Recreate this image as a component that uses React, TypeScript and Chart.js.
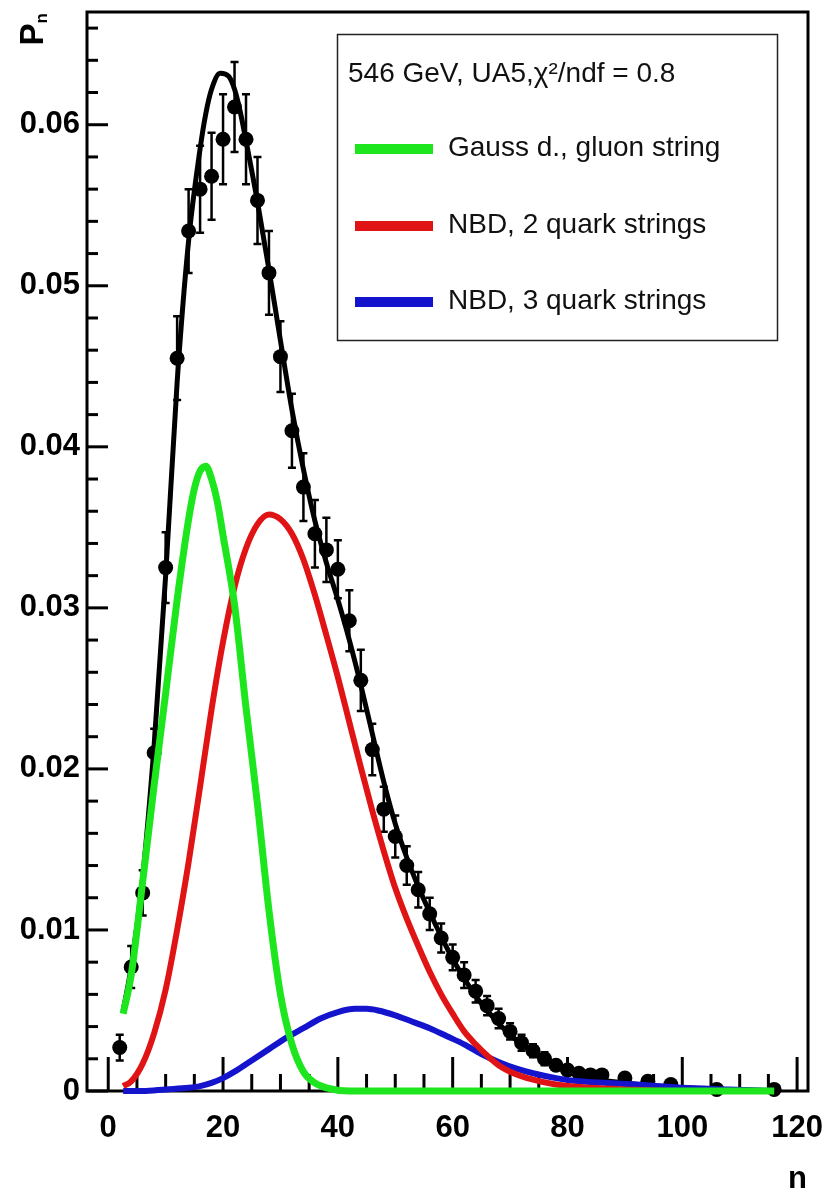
import React, { useEffect, useRef } from 'react';
import { Chart, registerables } from 'chart.js';

Chart.register(...registerables);

// ---- data points (UA5, 546 GeV) ----
const dataN = [2, 4, 6, 8, 10, 12, 14, 16, 18, 20, 22, 24, 26, 28, 30, 32, 34, 36, 38, 40, 42, 44, 46, 48, 50, 52, 54, 56, 58, 60, 62, 64, 66, 68, 70, 72, 74, 76, 78, 80, 82, 84, 86, 90, 94, 98, 106, 116];
const dataP = [0.0027, 0.0077, 0.0123, 0.0210, 0.0325, 0.0455, 0.0534, 0.0560, 0.0568, 0.0591, 0.0611, 0.0591, 0.0553, 0.0508, 0.0456, 0.0410, 0.0375, 0.0346, 0.0336, 0.0324, 0.0292, 0.0255, 0.0212, 0.0175, 0.0158, 0.0140, 0.0125, 0.0110, 0.0095, 0.0083, 0.0072, 0.0062, 0.0053, 0.0045, 0.0037, 0.0030, 0.0025, 0.0020, 0.0016, 0.0013, 0.0011, 0.0010, 0.0010, 0.0008, 0.0006, 0.0004, 0.0001, 0.0001];
const dataErr = [0.0008, 0.0013, 0.0014, 0.0015, 0.0022, 0.0026, 0.0026, 0.0027, 0.0027, 0.0028, 0.0028, 0.0028, 0.0027, 0.0026, 0.0022, 0.0023, 0.0021, 0.0021, 0.0020, 0.0018, 0.0019, 0.0019, 0.0016, 0.0014, 0.0013, 0.0012, 0.0011, 0.0010, 0.0009, 0.0008, 0.0008, 0.0007, 0.0006, 0.0006, 0.0005, 0.0005, 0.0004, 0.0004, 0.0003, 0.0003, 0.0003, 0.0002, 0.0002, 0.0002, 0.0002, 0.0002, 0.0001, 0.0001];

// ---- total fit (black) ----
const fitN = [2.6, 4, 6, 8, 10, 12, 14, 16, 17, 18, 19.5, 21, 22, 23, 24, 26, 28, 30, 32, 34, 36, 38, 40, 42, 44, 46, 48, 50, 52, 54, 56, 58, 60, 62, 64, 66, 68, 70, 72, 74, 76, 78, 80, 84, 90, 100, 116];
const fitP = [0.0050, 0.0077, 0.0133, 0.0215, 0.0320, 0.0440, 0.0528, 0.0585, 0.0607, 0.0622, 0.0632, 0.0630, 0.0622, 0.0608, 0.0590, 0.0552, 0.0510, 0.0466, 0.0423, 0.0386, 0.0354, 0.0328, 0.0305, 0.0280, 0.0252, 0.0222, 0.0192, 0.0166, 0.0145, 0.0127, 0.0111, 0.0096, 0.0082, 0.0070, 0.0059, 0.0050, 0.0042, 0.0035, 0.0029, 0.0024, 0.0019, 0.0015, 0.0012, 0.0008, 0.0005, 0.0002, 0.0000];

// ---- Gauss d., gluon string (green) ----
const gaussN = [2.6, 4, 6, 8, 10, 12, 14, 15, 16, 17, 18, 19, 20, 22, 24, 26, 28, 30, 32, 34, 36, 38, 42, 50, 116];
const gaussP = [0.0048, 0.0072, 0.0130, 0.0190, 0.0247, 0.0305, 0.0355, 0.0374, 0.0385, 0.0388, 0.0380, 0.0366, 0.0345, 0.0302, 0.0238, 0.0178, 0.0112, 0.0060, 0.0029, 0.0012, 0.0005, 0.0002, 0.0000, 0.0000, 0.0000];

// ---- NBD, 2 quark strings (red) ----
const nbd2N = [2.6, 4, 6, 8, 10, 12, 14, 16, 18, 20, 22, 24, 26, 28, 30, 32, 34, 36, 38, 40, 42, 44, 46, 48, 50, 52, 54, 56, 58, 60, 62, 64, 66, 68, 70, 74, 78, 84, 90, 100, 116];
const nbd2P = [0.0003, 0.0006, 0.0017, 0.0036, 0.0063, 0.0100, 0.0142, 0.0189, 0.0237, 0.0279, 0.0313, 0.0337, 0.0352, 0.0358, 0.0355, 0.0346, 0.0330, 0.0308, 0.0283, 0.0257, 0.0229, 0.0201, 0.0174, 0.0149, 0.0126, 0.0107, 0.0090, 0.0074, 0.0060, 0.0048, 0.0037, 0.0029, 0.0022, 0.0016, 0.0012, 0.0007, 0.0004, 0.0002, 0.0001, 0.0000, 0.0000];

// ---- NBD, 3 quark strings (blue) ----
const nbd3N = [2.6, 6, 10, 14, 16, 18, 20, 22, 25, 28, 31, 34, 37, 40, 43, 45, 47, 50, 53, 56, 59, 62, 65, 68, 71, 74, 78, 82, 87, 92, 100, 108, 116];
const nbd3P = [0.0000, 0.0000, 0.0001, 0.0002, 0.0003, 0.0005, 0.0008, 0.0012, 0.0019, 0.0026, 0.0033, 0.0039, 0.0045, 0.0049, 0.0051, 0.0051, 0.0050, 0.0047, 0.0043, 0.0039, 0.0034, 0.0029, 0.0023, 0.0018, 0.0014, 0.0011, 0.0008, 0.0006, 0.0005, 0.0004, 0.0002, 0.0001, 0.0000];

// ---- axes ----
const xTickValues = [0, 20, 40, 60, 80, 100, 120];
const yTickValues = [0, 0.01, 0.02, 0.03, 0.04, 0.05, 0.06];
const xMinorStep = 5;
const yMinorStep = 0.002;
const xRange = [-3.7, 121.9];
const yRange = [0, 0.067];

const legendTitle = '546 GeV, UA5,\u03c7\u00b2/ndf = 0.8';
const legendLabels = ['Gauss d., gluon string', 'NBD, 2 quark strings', 'NBD, 3 quark strings'];
const xTitle = 'n';
const yTitle = 'P';
const yTitleSub = 'n';

const GREEN = '#1ee61e';
const RED = '#e01414';
const BLUE = '#1414cc';
const legendColors = [GREEN, RED, BLUE];

const FONT = '"Liberation Sans", Arial, Helvetica, sans-serif';

const pts = (xs: number[], ys: number[]) => xs.map((x, i) => ({ x, y: ys[i] }));

export default function App() {
  const ref = useRef<HTMLCanvasElement | null>(null);

  useEffect(() => {
    document.body.style.margin = '0';
    const canvas = ref.current;
    if (!canvas) return;

    const overlay = {
      id: 'overlay',
      beforeDatasetsDraw(chart: any) {
        const { ctx, chartArea: a, scales } = chart;
        const xs = scales.x;
        const ys = scales.y;
        ctx.save();
        ctx.strokeStyle = '#000';
        ctx.lineWidth = 3;
        ctx.strokeRect(a.left, a.top, a.right - a.left, a.bottom - a.top);
        // x ticks (inward)
        const nx = Math.floor(xRange[1] / xMinorStep);
        for (let i = 0; i <= nx; i++) {
          const v = i * xMinorStep;
          const px = xs.getPixelForValue(v);
          const len = v % 20 === 0 ? 34 : 17;
          ctx.beginPath();
          ctx.moveTo(px, a.bottom);
          ctx.lineTo(px, a.bottom - len);
          ctx.stroke();
        }
        // y ticks (inward)
        const ny = Math.floor(yRange[1] / yMinorStep + 1e-6);
        for (let i = 0; i <= ny; i++) {
          const v = i * yMinorStep;
          const py = ys.getPixelForValue(v);
          const len = i % 5 === 0 ? 21 : 11;
          ctx.beginPath();
          ctx.moveTo(a.left, py);
          ctx.lineTo(a.left + len, py);
          ctx.stroke();
        }
        // error bars
        ctx.lineWidth = 2.5;
        for (let i = 0; i < dataN.length; i++) {
          const px = xs.getPixelForValue(dataN[i]);
          const y1 = ys.getPixelForValue(dataP[i] - dataErr[i]);
          const y2 = ys.getPixelForValue(dataP[i] + dataErr[i]);
          ctx.beginPath();
          ctx.moveTo(px, y1);
          ctx.lineTo(px, y2);
          ctx.moveTo(px - 4, y1);
          ctx.lineTo(px + 4, y1);
          ctx.moveTo(px - 4, y2);
          ctx.lineTo(px + 4, y2);
          ctx.stroke();
        }
        ctx.restore();
      },
      afterDraw(chart: any) {
        const { ctx } = chart;
        ctx.save();
        // legend box
        ctx.fillStyle = '#fff';
        ctx.fillRect(337, 34, 440, 306);
        ctx.strokeStyle = '#222';
        ctx.lineWidth = 1.5;
        ctx.strokeRect(337.5, 34.5, 440, 306);
        ctx.fillStyle = '#111';
        ctx.font = `28px ${FONT}`;
        ctx.textAlign = 'left';
        ctx.textBaseline = 'alphabetic';
        ctx.fillText(legendTitle, 348, 82);
        const ly = [149, 226, 302];
        for (let i = 0; i < legendLabels.length; i++) {
          ctx.strokeStyle = legendColors[i];
          ctx.lineWidth = 10;
          ctx.beginPath();
          ctx.moveTo(355, ly[i]);
          ctx.lineTo(433, ly[i]);
          ctx.stroke();
          ctx.fillStyle = '#111';
          ctx.textBaseline = 'middle';
          ctx.fillText(legendLabels[i], 448, ly[i] - 1);
        }
        // x title
        ctx.fillStyle = '#000';
        ctx.font = `bold 31px ${FONT}`;
        ctx.textAlign = 'right';
        ctx.textBaseline = 'middle';
        ctx.fillText(xTitle, 807, 1179);
        // y title (rotated)
        ctx.translate(43, 13);
        ctx.rotate(-Math.PI / 2);
        ctx.textAlign = 'right';
        ctx.textBaseline = 'alphabetic';
        ctx.font = `bold 17px ${FONT}`;
        ctx.fillText(yTitleSub, 0, 4);
        const wSub = ctx.measureText(yTitleSub).width;
        ctx.font = `bold 33px ${FONT}`;
        ctx.fillText(yTitle, -wSub, 0);
        ctx.restore();
      },
    };

    const lineDs = (label: string, d: any[], color: string, width: number, order: number) => ({
      label,
      data: d,
      showLine: true,
      borderColor: color,
      backgroundColor: color,
      borderWidth: width,
      pointRadius: 0,
      cubicInterpolationMode: 'monotone' as const,
      borderJoinStyle: 'round' as const,
      clip: false as const,
      order,
    });

    const tickFont = { family: FONT, size: 31, weight: 'bold' as const };

    const chart = new Chart(canvas, {
      type: 'scatter',
      data: {
        datasets: [
          {
            label: 'UA5 546 GeV',
            data: pts(dataN, dataP),
            pointRadius: 7.5,
            pointBackgroundColor: '#000',
            pointBorderColor: '#000',
            pointBorderWidth: 0,
            showLine: false,
            clip: false as const,
            order: 5,
          },
          lineDs('fit', pts(fitN, fitP), '#000', 5, 4),
          lineDs(legendLabels[2], pts(nbd3N, nbd3P), BLUE, 6, 3),
          lineDs(legendLabels[1], pts(nbd2N, nbd2P), RED, 6, 2),
          lineDs(legendLabels[0], pts(gaussN, gaussP), GREEN, 7, 1),
        ] as any,
      },
      options: {
        animation: false,
        responsive: false,
        devicePixelRatio: 1,
        events: [],
        layout: { padding: { left: 0, right: 21, top: 12, bottom: 0 } },
        plugins: { legend: { display: false }, tooltip: { enabled: false } },
        scales: {
          x: {
            type: 'linear',
            min: xRange[0],
            max: xRange[1],
            border: { display: false },
            grid: { display: false, drawTicks: false },
            ticks: {
              font: tickFont,
              color: '#000',
              padding: 19,
              maxRotation: 0,
              autoSkip: false,
              includeBounds: false,
              callback: (v: any) => String(v),
            },
            afterBuildTicks: (s: any) => {
              s.ticks = xTickValues.map((v) => ({ value: v }));
            },
            afterFit: (s: any) => {
              s.height = 102;
              s.paddingLeft = 0;
              s.paddingRight = 0;
            },
          },
          y: {
            type: 'linear',
            min: yRange[0],
            max: yRange[1],
            border: { display: false },
            grid: { display: false, drawTicks: false },
            ticks: {
              font: tickFont,
              color: '#000',
              padding: 7,
              autoSkip: false,
              includeBounds: false,
              callback: (v: any) => (Number(v) === 0 ? '0' : Number(v).toFixed(2)),
            },
            afterBuildTicks: (s: any) => {
              s.ticks = yTickValues.map((v) => ({ value: v }));
            },
            afterFit: (s: any) => {
              s.width = 87;
              s.paddingTop = 0;
              s.paddingBottom = 0;
            },
          },
        },
      } as any,
      plugins: [overlay],
    });

    return () => chart.destroy();
  }, []);

  return (
    <div style={{ width: 829, height: 1193, background: '#fff' }}>
      <canvas ref={ref} width={829} height={1193} style={{ display: 'block', width: 829, height: 1193 }} />
    </div>
  );
}
